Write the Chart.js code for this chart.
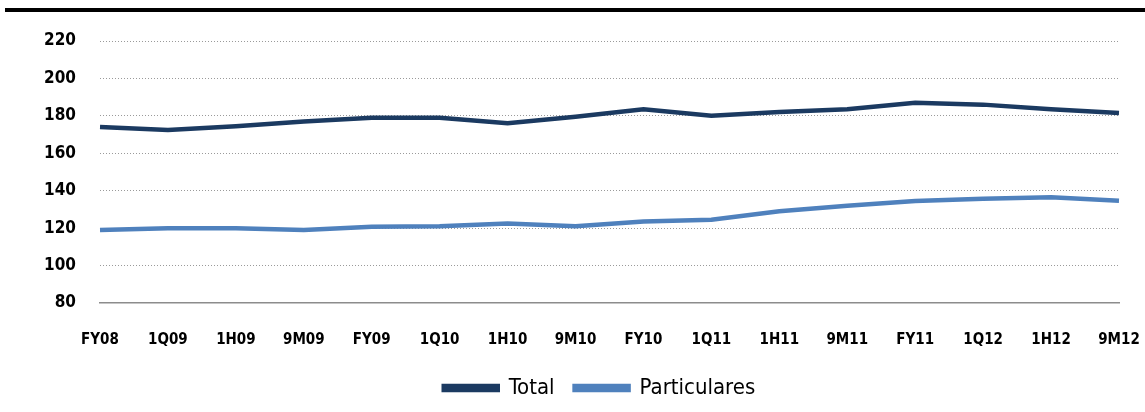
<!DOCTYPE html>
<html>
<head>
<meta charset="utf-8">
<script src="https://cdn.jsdelivr.net/npm/chart.js@4.4.0/dist/chart.umd.min.js"></script>
<style>
  html, body { margin: 0; padding: 0; background: #fff; }
  #wrap { position: relative; width: 1145px; height: 412px; }
  #topbar { position: absolute; left: 5px; top: 8px; width: 1140px; height: 4px; background: #000; }
  #chart { position: absolute; left: 0; top: 0; }
</style>
</head>
<body>
<div id="wrap">
  <canvas id="chart" width="1145" height="412"></canvas>
  <div id="topbar"></div>
</div>
<script>
const periods = ["FY08","1Q09","1H09","9M09","FY09","1Q10","1H10","9M10","FY10","1Q11","1H11","9M11","FY11","1Q12","1H12","9M12"];
const totalVals = [174, 172.5, 174.5, 177, 179, 179, 176, 179.5, 183.5, 180, 182, 183.5, 187, 186, 183.5, 181.5];
const particularesVals = [119, 120, 120, 119, 120.8, 121, 122.5, 121, 123.5, 124.5, 129, 132, 134.5, 135.7, 136.5, 134.6];
const yTicks = [80, 100, 120, 140, 160, 180, 200, 220];

const narrow = "'Liberation Sans Narrow', 'Arial Narrow', 'DejaVu Sans Condensed', sans-serif";

// move the legend to where the original has it
const legendShift = {
  id: 'legendShift',
  beforeDraw(chart) {
    const lg = chart.legend;
    if (!lg._shifted) {
      lg.left += 27; lg.right += 27;
      lg.top -= 12; lg.bottom -= 12;
      lg._shifted = true;
    }
  }
};

new Chart('chart', {
  type: 'line',
  data: {
    labels: periods,
    datasets: [
      {
        label: 'Total',
        data: totalVals,
        borderColor: '#1b3a61',
        backgroundColor: '#1b3a61',
        borderWidth: 4.5,
        pointRadius: 0,
        tension: 0
      },
      {
        label: 'Particulares',
        data: particularesVals,
        borderColor: '#4f81bd',
        backgroundColor: '#4f81bd',
        borderWidth: 4.5,
        pointRadius: 0,
        tension: 0
      }
    ]
  },
  options: {
    responsive: false,
    animation: false,
    layout: { padding: { top: 41, right: 0, left: 0, bottom: 0 } },
    plugins: {
      tooltip: { enabled: false },
      legend: {
        position: 'bottom',
        maxHeight: 43,
        labels: {
          boxWidth: 54,
          boxHeight: 4,
          padding: 20,
          color: '#000',
          font: { family: narrow, size: 22 }
        }
      }
    },
    scales: {
      x: {
        afterFit: (s) => { s.paddingRight = 26; s.paddingLeft = 0; },
        grid: { display: false },
        border: { display: true, color: '#8c8c8c', width: 1.5 },
        ticks: {
          color: '#000',
          padding: 20,
          maxRotation: 0,
          autoSkip: false,
          font: { family: narrow, size: 15, weight: 'bold' }
        }
      },
      y: {
        min: 80,
        max: 220,
        afterFit: (s) => { s.width = 100; },
        afterBuildTicks: (s) => { s.ticks = yTicks.map(v => ({ value: v })); },
        grid: {
          color: (c) => (c.tick && c.tick.value === 80) ? 'rgba(0,0,0,0)' : '#9a9a9a',
          lineWidth: 1,
          drawTicks: false
        },
        border: { display: false, dash: [1, 2] },
        ticks: {
          color: '#000',
          padding: 24,
          font: { family: narrow, size: 17, weight: 'bold' }
        }
      }
    }
  },
  plugins: [legendShift]
});
</script>
</body>
</html>
